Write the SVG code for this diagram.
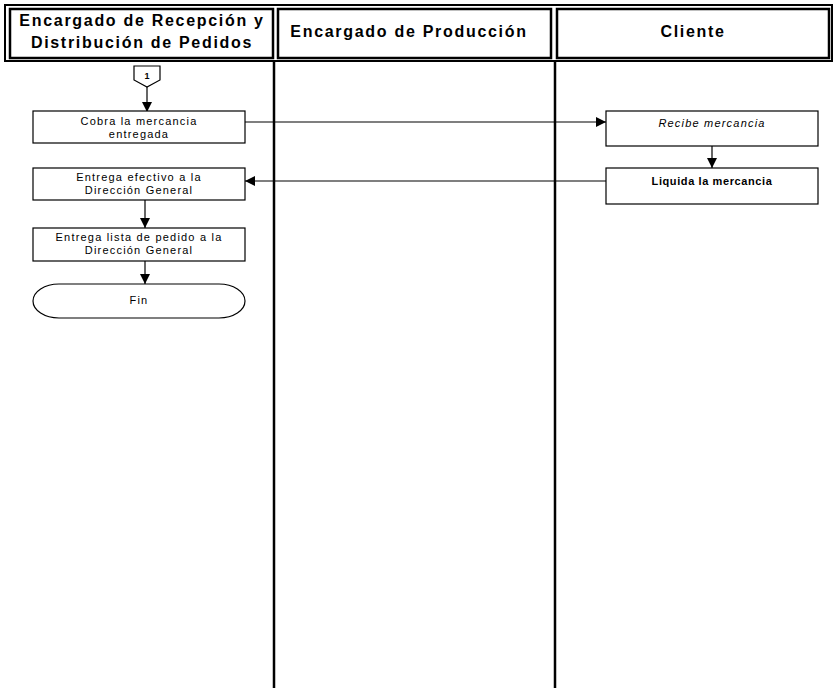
<svg xmlns="http://www.w3.org/2000/svg" width="836" height="688" viewBox="0 0 836 688">
  <defs>
    <marker id="arrow" viewBox="0 0 10 10" refX="10" refY="5" markerWidth="10" markerHeight="10" markerUnits="userSpaceOnUse" orient="auto">
      <path d="M0,0 L10,5 L0,10 Z" fill="#000"/>
    </marker>
    <style>
      .frame { fill: none; stroke: #000; stroke-width: 2; }
      .hbox { fill: #fff; stroke: #000; stroke-width: 2.5; }
      .lane { stroke: #000; stroke-width: 2.5; }
      .head { font-family: "Liberation Sans", Arial, sans-serif; font-weight: bold; font-size: 16px; letter-spacing: 1.7px; text-anchor: middle; fill: #000; }
      .box { fill: #fff; stroke: #000; stroke-width: 1.2; }
      .lbl { font-family: "Liberation Sans", Arial, sans-serif; font-size: 11px; letter-spacing: 1.2px; text-anchor: middle; fill: #000; }
      .it { font-style: italic; }
      .bd { font-weight: bold; font-size: 11px; letter-spacing: 0.6px; }
      .edge { fill: none; stroke: #000; stroke-width: 1.2; marker-end: url(#arrow); }
    </style>
  </defs>
  <rect width="836" height="688" fill="#fff"/>

  <!-- swimlane header -->
  <g id="header">
    <rect class="frame" x="5" y="5" width="827" height="56"/>
    <rect class="hbox" x="10" y="9" width="263" height="49"/>
    <rect class="hbox" x="278" y="9" width="273" height="49"/>
    <rect class="hbox" x="557" y="9" width="272" height="49"/>
    <text class="head" x="142" y="26">Encargado de Recepción y</text>
    <text class="head" x="142" y="48">Distribución de Pedidos</text>
    <text class="head" x="409" y="37">Encargado de Producción</text>
    <text class="head" x="693" y="37">Cliente</text>
  </g>

  <!-- lane dividers -->
  <g id="lanes">
    <line class="lane" x1="274" y1="61" x2="274" y2="688"/>
    <line class="lane" x1="555" y1="61" x2="555" y2="688"/>
  </g>

  <!-- connectors -->
  <g id="connectors">
    <path class="edge" d="M147,87 V112"/>
    <path class="edge" d="M245,122 H606"/>
    <path class="edge" d="M712,146 V168"/>
    <path class="edge" d="M606,181 H245"/>
    <path class="edge" d="M145,200 V228"/>
    <path class="edge" d="M145,261 V284"/>
  </g>

  <!-- nodes -->
  <g id="n-offpage">
    <path class="box" d="M134,66 H160 V80 L147,87 L134,80 Z"/>
    <text class="lbl" x="147" y="79" style="font-size:9px;font-weight:bold;letter-spacing:0">1</text>
  </g>
  <g id="n-cobra">
    <rect class="box" x="33" y="111" width="212" height="32"/>
    <text class="lbl" x="139" y="125">Cobra la mercancia</text>
    <text class="lbl" x="139" y="138">entregada</text>
  </g>
  <g id="n-recibe">
    <rect class="box" x="606" y="111" width="212" height="35"/>
    <text class="lbl it" x="712" y="127">Recibe mercancia</text>
  </g>
  <g id="n-liquida">
    <rect class="box" x="606" y="168" width="212" height="36"/>
    <text class="lbl bd" x="712" y="185">Liquida la mercancia</text>
  </g>
  <g id="n-efectivo">
    <rect class="box" x="33" y="168" width="212" height="32"/>
    <text class="lbl" x="139" y="181">Entrega efectivo a la</text>
    <text class="lbl" x="139" y="194">Dirección General</text>
  </g>
  <g id="n-lista">
    <rect class="box" x="33" y="228" width="212" height="33"/>
    <text class="lbl" x="139" y="241">Entrega lista de pedido a la</text>
    <text class="lbl" x="139" y="254">Dirección General</text>
  </g>
  <g id="n-fin">
    <rect class="box" x="33" y="284" width="212" height="34" rx="26" ry="17"/>
    <text class="lbl" x="139" y="304">Fin</text>
  </g>
</svg>
